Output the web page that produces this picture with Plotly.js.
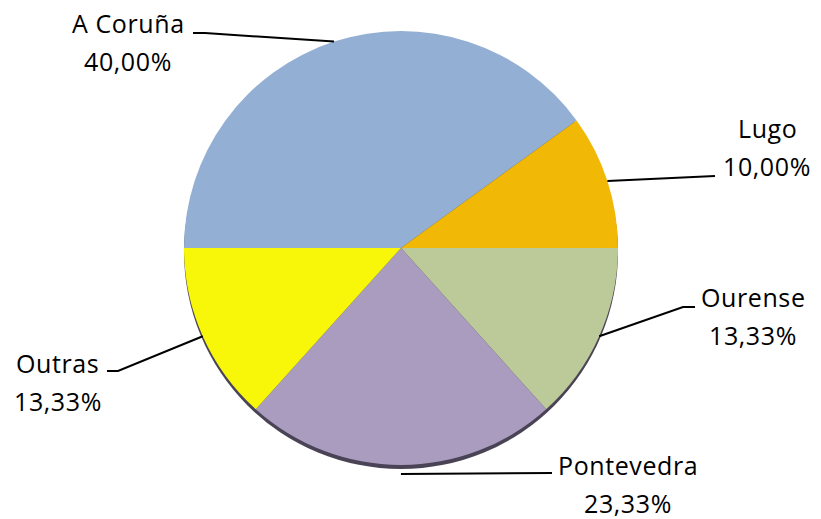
<!DOCTYPE html>
<html>
<head>
<meta charset="utf-8">
<script src="https://cdn.plot.ly/plotly-3.0.1.min.js"></script>
<style>
html,body{margin:0;padding:0;background:#fff}
#chart{width:821px;height:519px}
text.annotation-text{letter-spacing:0.6px}
</style>
</head>
<body>
<div id="chart"></div>
<script>
// ---- data ----
var categories = ["A Coruña", "Lugo", "Ourense", "Pontevedra", "Outras"];
var values = [40.00, 10.00, 13.33, 23.33, 13.33];
var colors = ["#93afd4", "#f1b805", "#bbca98", "#aa9cbf", "#f8f70a"];

// ---- layout constants (pixels) ----
var W = 821, H = 519;
var cx = 401, cy = 248, R = 217;
var rotation = -90;
var FONT = "'Open Sans', sans-serif";
var FS = 25;
var lineGap = 38;
// name baseline centres of each label
var labelPos = [[128, 32], [767, 137], [753, 306], [628, 474], [58, 372]];
// extra radial offset for leader start, then elbow points
var leaderOut = [0, 0, 0, 9, 0];
var leaderPts = [
  [[205, 33], [193, 33]],
  [[715, 176]],
  [[683, 307], [695, 307]],
  [[552, 473]],
  [[118, 371], [107, 371]]
];

function px(x) { return x / W; }
function py(y) { return 1 - y / H; }

var total = values.reduce(function (a, b) { return a + b; }, 0);
var annotations = [];
var shapes = [];

// shadow rim under the pie
shapes.push({
  type: "circle", xref: "paper", yref: "paper", layer: "below",
  x0: px(cx - R), x1: px(cx + R), y0: py(cy + R + 4), y1: py(cy - R + 4),
  fillcolor: "#4a4356", line: { width: 0 }
});

var cum = 0;
for (var i = 0; i < values.length; i++) {
  var mid = cum + values[i] / 2;
  cum += values[i];
  var a = (rotation + mid / total * 360) * Math.PI / 180;
  var rr = R + leaderOut[i];
  var ax = cx + rr * Math.sin(a), ay = cy - rr * Math.cos(a);
  var d = "M" + px(ax) + "," + py(ay);
  leaderPts[i].forEach(function (p) { d += " L" + px(p[0]) + "," + py(p[1]); });
  shapes.push({ type: "path", xref: "paper", yref: "paper", path: d, line: { color: "#000", width: 2 } });

  var pct = (values[i] / total * 100).toFixed(2).replace(".", ",") + "%";
  var lx = labelPos[i][0], lb = labelPos[i][1];
  [[categories[i], lb], [pct, lb + lineGap]].forEach(function (t) {
    annotations.push({
      xref: "paper", yref: "paper", x: px(lx), y: py(t[1] - FS * 0.36),
      xanchor: "center", yanchor: "middle", showarrow: false,
      text: t[0], font: { family: FONT, size: FS, color: "#000" }
    });
  });
}

var data = [{
  type: "pie",
  labels: categories,
  values: values,
  sort: false,
  direction: "clockwise",
  rotation: rotation,
  textinfo: "none",
  hoverinfo: "label+percent",
  marker: { colors: colors, line: { width: 0 } },
  domain: { x: [px(cx - R), px(cx + R)], y: [py(cy + R), py(cy - R)] }
}];

var layout = {
  width: W, height: H,
  margin: { l: 0, r: 0, t: 0, b: 0 },
  paper_bgcolor: "#fff",
  showlegend: false,
  shapes: shapes,
  annotations: annotations
};

Plotly.newPlot("chart", data, layout, { displayModeBar: false, staticPlot: true });
</script>
</body>
</html>
